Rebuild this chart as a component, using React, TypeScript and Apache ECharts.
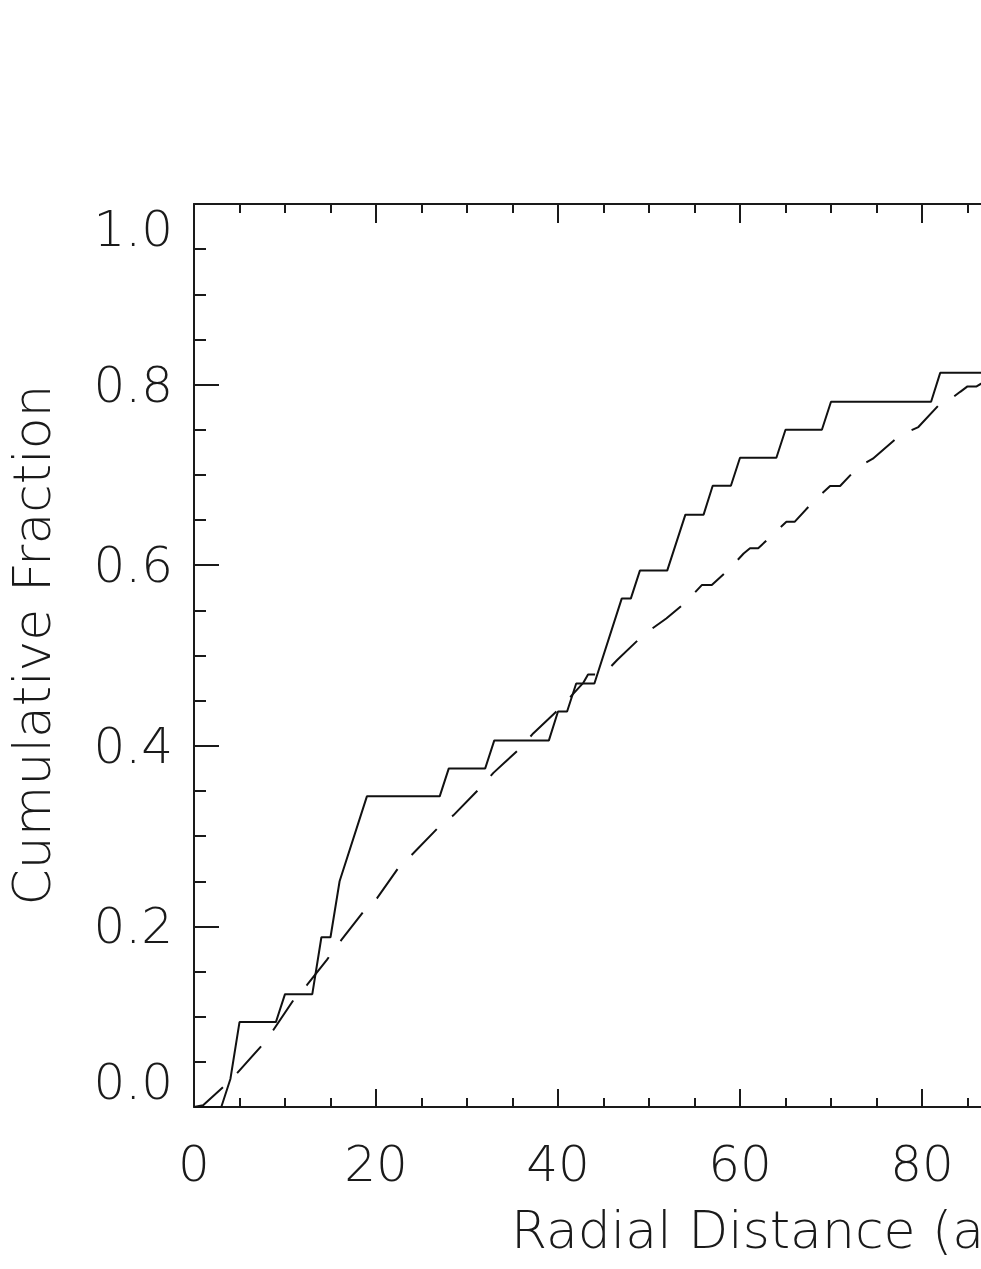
import React, { useEffect, useRef } from "react";
import * as echarts from "echarts";

// Observed cumulative fraction (solid line), vertices
const OBS_X = [0, 3, 4, 5, 9, 10, 13, 14, 15, 16, 19, 27, 28, 32, 33, 39, 40, 41, 42, 44, 47, 48, 49, 52, 54, 56, 57, 59, 60, 64, 65, 69, 70, 81, 82, 88];
const OBS_Y = [0, 0, 0.031, 0.094, 0.094, 0.125, 0.125, 0.188, 0.188, 0.25, 0.344, 0.344, 0.375, 0.375, 0.406, 0.406, 0.438, 0.438, 0.469, 0.469, 0.563, 0.563, 0.594, 0.594, 0.656, 0.656, 0.688, 0.688, 0.719, 0.719, 0.75, 0.75, 0.781, 0.781, 0.813, 0.813];

// Model cumulative fraction (dashed line), vertices
const MODEL_X = [0, 1, 3.2, 4.7, 7.4, 8.7, 10.9, 12.4, 14.6, 16.2, 18.6, 20.1, 22.4, 24.1, 26.8, 28.5, 31.4, 32.9, 35.8, 37.3, 40.2, 42.8, 43.3, 45, 46.5, 49.4, 51.9, 54.1, 55.8, 56.9, 58.9, 60.4, 61.1, 62, 63.7, 65.1, 66, 68.2, 69.9, 71, 73, 74.6, 77.6, 79.6, 82, 82.5, 84.2, 85, 86, 88];
const MODEL_Y = [0, 0.002, 0.022, 0.037, 0.0675, 0.085, 0.118, 0.135, 0.163, 0.185, 0.216, 0.231, 0.264, 0.281, 0.309, 0.323, 0.353, 0.37, 0.397, 0.414, 0.4415, 0.47, 0.479, 0.479, 0.495, 0.523, 0.541, 0.5596, 0.578, 0.578, 0.5965, 0.613, 0.6187, 0.6187, 0.635, 0.648, 0.648, 0.672, 0.6877, 0.6877, 0.709, 0.718, 0.744, 0.753, 0.779, 0.779, 0.792, 0.798, 0.798, 0.81];

const X_MIN = 0;
const X_MAX = 100;
const X_STEP = 20;
const Y_MIN = 0;
const Y_MAX = 1;
const Y_STEP = 0.2;

const Y_TITLE = "Cumulative Fraction";
const X_TITLE = "Radial Distance (arcsec)";

const FONT = "'DejaVu Sans', sans-serif";
const INK = "#1a1a1a";

export default function App() {
  const ref = useRef<HTMLDivElement>(null);

  useEffect(() => {
    if (!ref.current) return;
    const chart = echarts.init(ref.current, undefined, { renderer: "svg" });
    const axisLine = { show: true, onZero: false, lineStyle: { color: INK, width: 2 } };
    const label = { color: INK, fontFamily: FONT, fontWeight: 200 as any, fontSize: 50 };

    chart.setOption({
      animation: false,
      backgroundColor: "#ffffff",
      grid: { left: 194, top: 204, width: 910, height: 903, containLabel: false },
      xAxis: [
        {
          type: "value", min: X_MIN, max: X_MAX, interval: X_STEP, position: "bottom",
          axisLine,
          axisTick: { show: true, inside: true, length: 18, lineStyle: { color: INK, width: 2 } },
          minorTick: { show: true, splitNumber: 4, length: 9, lineStyle: { color: INK, width: 2 } },
          splitLine: { show: false },
          axisLabel: { ...label, margin: 32, formatter: (v: number) => String(v) },
        },
        {
          type: "value", min: X_MIN, max: X_MAX, interval: X_STEP, position: "top",
          axisLine,
          axisTick: { show: true, inside: true, length: 19, lineStyle: { color: INK, width: 2 } },
          minorTick: { show: true, splitNumber: 4, length: 9, lineStyle: { color: INK, width: 2 } },
          splitLine: { show: false },
          axisLabel: { show: false },
        },
      ],
      yAxis: [
        {
          type: "value", min: Y_MIN, max: Y_MAX, interval: Y_STEP, position: "left",
          axisLine,
          axisTick: { show: true, inside: true, length: 25, lineStyle: { color: INK, width: 2 } },
          minorTick: { show: true, splitNumber: 4, length: 12, lineStyle: { color: INK, width: 2 } },
          splitLine: { show: false },
          axisLabel: {
            ...label, margin: 21,
            formatter: (v: number) => v.toFixed(1),
            verticalAlignMinLabel: "bottom",
            verticalAlignMaxLabel: "top",
          },
        },
        {
          type: "value", min: Y_MIN, max: Y_MAX, interval: Y_STEP, position: "right",
          axisLine,
          axisTick: { show: true, inside: true, length: 25, lineStyle: { color: INK, width: 2 } },
          minorTick: { show: true, splitNumber: 4, length: 12, lineStyle: { color: INK, width: 2 } },
          splitLine: { show: false },
          axisLabel: { show: false },
        },
      ],
      series: [
        {
          name: "Observed", type: "line", xAxisIndex: 0, yAxisIndex: 0,
          showSymbol: false, symbol: "none", clip: true,
          lineStyle: { color: "#111111", width: 2 },
          data: OBS_X.map((x, i) => [x, OBS_Y[i]]),
          z: 3,
        },
        {
          name: "Model", type: "line", xAxisIndex: 0, yAxisIndex: 0,
          showSymbol: false, symbol: "none", clip: true,
          lineStyle: { color: "#111111", width: 2, type: [36, 20] },
          data: MODEL_X.map((x, i) => [x, MODEL_Y[i]]),
          z: 2,
        },
      ],
      graphic: [
        {
          type: "text", x: 32, y: 645, rotation: Math.PI / 2,
          style: { text: Y_TITLE, fill: INK, font: `200 52px ${FONT}`, textAlign: "center", textVerticalAlign: "middle" },
        },
        {
          type: "text", x: 511, y: 1230,
          style: { text: X_TITLE, fill: INK, font: `200 52px ${FONT}`, textAlign: "left", textVerticalAlign: "middle" },
        },
      ],
    });
    return () => chart.dispose();
  }, []);

  return (
    <div style={{ position: "fixed", left: 0, top: 0, width: 981, height: 1269, overflow: "hidden", background: "#fff" }}>
      <div ref={ref} style={{ width: 1400, height: 1269 }} />
    </div>
  );
}
